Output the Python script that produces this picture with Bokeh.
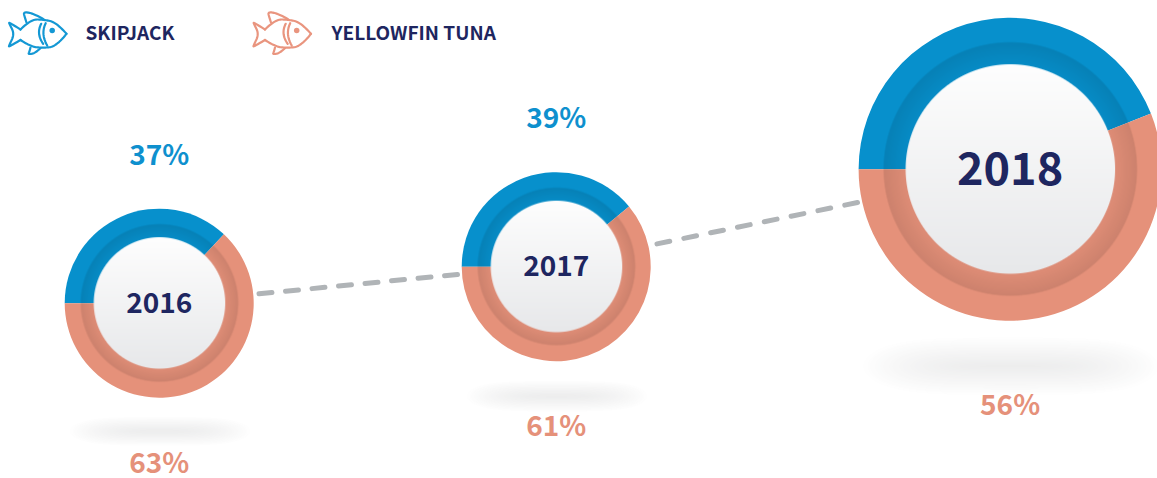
import numpy as np
from bokeh.plotting import figure
from bokeh.models import Range1d, ColumnDataSource
from bokeh.core.properties import value
from bokeh.embed import file_html
from bokeh.resources import INLINE

# ---- data ----
years = ["2016", "2017", "2018"]
skipjack = [37, 39, 44]
yellowfin = [63, 61, 56]
series_names = ["SKIPJACK", "YELLOWFIN TUNA"]

# ---- layout (reference pixels) ----
cx = [158.7, 555.7, 1009.6]
cy = [302.7, 266.2, 168.8]
r_outer = [94.5, 94.5, 151.5]
r_shade = [79.0, 79.0, 127.0]
r_inner = [66.0, 66.0, 105.0]
year_font = [28, 28, 45]
top_label_y = [152, 115, None]
bottom_label_y = [460, 423, 402]
shadow = [(159, 431, 92, 15), (556, 396, 92, 16), (1010, 366, 150, 30)]

BLUE = "#0790CC"
SALMON = "#E5917A"
NAVY = "#1E2660"
GREY = "#B0B4B7"
FONT = value("Noto Sans CJK SC")

W, H = 1157, 478
p = figure(width=W, height=H, output_backend="svg", toolbar_location=None,
           x_range=Range1d(0, W), y_range=Range1d(-H, 0),
           x_axis_type=None, y_axis_type=None, min_border=0,
           background_fill_color="white", border_fill_color="white", outline_line_color=None)
p.grid.visible = False


def rgba(r, g, b, a):
    out = np.zeros(a.shape, dtype=np.uint32)
    view = out.view(np.uint8).reshape(a.shape + (4,))
    view[..., 0] = np.clip(r, 0, 255)
    view[..., 1] = np.clip(g, 0, 255)
    view[..., 2] = np.clip(b, 0, 255)
    view[..., 3] = np.clip(a * 255, 0, 255)
    return out


# soft floor shadows
for sx, sy, rx, ry in shadow:
    n = 2
    xs = np.linspace(-1.2, 1.2, int(2.4 * rx) * n)
    ys = np.linspace(-1.2, 1.2, int(2.4 * ry) * n)
    gx, gy = np.meshgrid(xs, ys)
    d = (gx ** 4 + gy ** 2 * 1.0) ** 0.5
    a = 0.115 * np.clip(1 - d, 0, 1) ** 0.9
    img = rgba(90 + 0 * a, 92 + 0 * a, 95 + 0 * a, a)
    p.image_rgba(image=[img], x=sx - 1.2 * rx, y=-(sy + 1.2 * ry), dw=2.4 * rx, dh=2.4 * ry)

# dashed connectors
conn = [((258.5, 293.3), (457, 273.9), 8), ((656.5, 243.4), (857, 202.0), 8)]
dx0, dy0, dx1, dy1 = [], [], [], []
for (x0, y0), (x1, y1), k in conn:
    dash_frac = 13.0 / ((np.hypot(x1 - x0, y1 - y0) - 13.0) / (k - 1))
    step = 1.0 / (k - 1 + dash_frac)
    for i in range(k):
        a0 = i * step
        a1 = a0 + dash_frac * step
        dx0.append(x0 + (x1 - x0) * a0)
        dy0.append(-(y0 + (y1 - y0) * a0))
        dx1.append(x0 + (x1 - x0) * a1)
        dy1.append(-(y0 + (y1 - y0) * a1))
p.segment(dx0, dy0, dx1, dy1, line_color=GREY, line_width=5, line_cap="round")

# donuts: two wedges driven by the shares, starting at 9 o'clock and going clockwise
for i in range(3):
    total = skipjack[i] + yellowfin[i]
    split = np.pi - 2 * np.pi * skipjack[i] / total
    src = ColumnDataSource(dict(x=[cx[i]] * 2, y=[-cy[i]] * 2,
                                s=[np.pi, split], e=[split, np.pi],
                                c=[BLUE, SALMON]))
    p.wedge(x="x", y="y", radius=r_outer[i], start_angle="s", end_angle="e",
            direction="clock", fill_color="c", line_color=None, source=src)

    # inner shaded ring
    R = r_shade[i] + 2
    n = int(R * 2) * 2
    xs = np.linspace(-R, R, n)
    gx, gy = np.meshgrid(xs, xs)
    d = np.hypot(gx, gy)
    ramp = (d - r_inner[i]) / (r_shade[i] - r_inner[i])
    a = (0.035 + 0.075 * np.clip(ramp, 0, 1)) * np.clip((r_shade[i] + 0.8 - d) / 1.6, 0, 1)
    img = rgba(0 * a, 0 * a, 0 * a, a)
    p.image_rgba(image=[img], x=cx[i] - R, y=-cy[i] - R, dw=2 * R, dh=2 * R)

    # centre disc with a vertical gradient
    R = r_inner[i] + 1
    n = int(R * 2) * 2
    xs = np.linspace(-R, R, n)
    gx, gy = np.meshgrid(xs, xs)
    d = np.hypot(gx, gy)
    a = np.clip((r_inner[i] + 0.5 - d) / 1.0, 0, 1)
    t = (gy + R) / (2 * R)  # 0 at bottom, 1 at top
    img = rgba(231 + 23 * t, 232 + 22 * t, 234 + 20 * t, a)
    p.image_rgba(image=[img], x=cx[i] - R, y=-cy[i] - R, dw=2 * R, dh=2 * R)

    p.text(x=[cx[i]], y=[-cy[i] + 1.2], text=[years[i]], text_color=NAVY, text_font=FONT,
           text_font_style="bold", text_font_size=f"{year_font[i]}px",
           text_align="center", text_baseline="middle")

# percent labels
top_i = [0, 1]
p.text(x=[cx[i] for i in top_i], y=[-top_label_y[i] for i in top_i],
       text=[f"{skipjack[i]}%" for i in top_i], text_color="#0E90CE", text_font=FONT,
       text_font_style="bold", text_font_size="28px", text_align="center", text_baseline="middle")
p.text(x=cx, y=[-v for v in bottom_label_y],
       text=[f"{v}%" for v in yellowfin], text_color=SALMON, text_font=FONT,
       text_font_style="bold", text_font_size="28px", text_align="center", text_baseline="middle")


# legend
def quad(pts, n=14):
    """Smooth polyline through control points (midpoint quadratic subdivision)."""
    pts = np.asarray(pts, float)
    out = [pts[0]]
    for j in range(1, len(pts) - 1):
        a = (pts[j - 1] + pts[j]) / 2 if j > 1 else pts[0]
        b = pts[j]
        c = (pts[j] + pts[j + 1]) / 2 if j < len(pts) - 2 else pts[-1]
        for u in np.linspace(0, 1, n)[1:]:
            out.append((1 - u) ** 2 * a + 2 * u * (1 - u) * b + u ** 2 * c)
    return np.array(out)


fish_paths = [
    # upper body
    [(66, 33.3), (56, 22), (43, 19), (30, 19), (20, 29)],
    # lower body
    [(66, 33.3), (56, 46), (42, 47.5), (30, 46), (20, 39.5)],
    # tail
    [(20, 29), (8.3, 21.5), (9, 23.5), (14, 33.5), (8.6, 45), (8.3, 46.5), (20, 39.5)],
    # dorsal fin
    [(26, 22), (24, 16), (23, 11.3), (33, 13), (43, 18.6)],
    # ventral fin
    [(30, 47), (29, 51), (27.6, 54), (35, 52.5), (40, 47.6)],
    # gills
    [(40.7, 23.3), (35.5, 33.3), (42.7, 43.3)],
    [(45.2, 22.7), (40, 33.3), (46.7, 45)],
]
fish_x = [0, 244.5]
fish_col = ["#1498D4", "#E9957F"]
label_x = [85, 331]
for k in range(2):
    for path in fish_paths:
        q = quad(path)
        p.line(q[:, 0] + fish_x[k], -q[:, 1], line_color=fish_col[k], line_width=2.2,
               line_join="round", line_cap="round")
    p.scatter([51.7 + fish_x[k]], [-30], size=5.5, marker="circle", fill_color=fish_col[k], line_color=None)
    p.text(x=[label_x[k]], y=[-31.2], text=[series_names[k]], text_color=NAVY, text_font=FONT,
           text_font_style="bold", text_font_size="19px", text_align="left", text_baseline="middle")

open("out.html", "w").write(file_html(p, INLINE))
